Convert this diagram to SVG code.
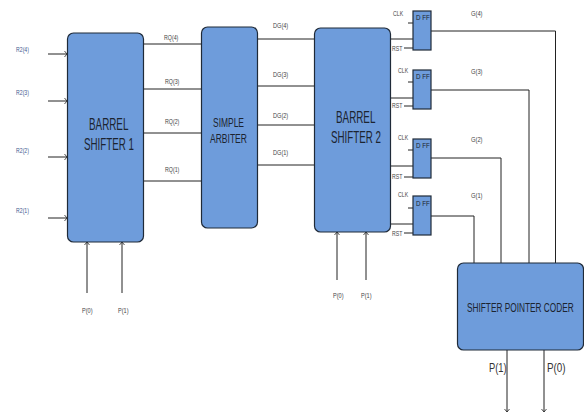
<svg xmlns="http://www.w3.org/2000/svg" width="584" height="414" viewBox="0 0 584 414">
<style>
text{font-family:"Liberation Sans",Arial,sans-serif}
.b{fill:#6e9cdb;stroke:#1f2a38;stroke-width:1.2}
.big{font-size:16px;fill:#1c2430}
.mid{font-size:13px;fill:#1c2430}
.s{font-size:8px;fill:#444}
.d{font-size:8px;fill:#1c2430}
.r{font-size:8px;fill:#3f5a90}
.c{fill:none;stroke:#222;stroke-width:1}
.h{fill:none;stroke:#222;stroke-width:.8}
</style>
<defs>
<path id="ar" class="h" d="M-2.500 -3L0 0L-2.500 3"/>
<path id="au" class="h" d="M-2.500 3L0 0L2.500 3"/>
<path id="ad" class="h" d="M-2.500 -3L0 0L2.500 -3"/>
</defs>
<g id="connectors">
<path class="c" d="M48 54H67M48 101H67M48 157H67M48 218H67M87 293V242M122 293V242M337 280V232M366 280V232"/>
<path class="c" d="M143 44H201M143 89H201M143 133H201M143 181H201M257 39H314M257 86H314M257 125H314M257 165H314"/>
<path class="c" d="M391 39H413M391 98H413M391 166H413M391 224H413M408 23H413M408 82H413M408 150H413M408 208H413M404 48H413M404 106H413M404 177H413M404 233H413"/>
<path class="c" d="M431 31H555.500V263M431 90H529V263M431 158H501V263M431 216H474V263M507 350V412M544 350V412"/>
<use href="#ar" x="67" y="54"/><use href="#ar" x="67" y="101"/><use href="#ar" x="67" y="157"/><use href="#ar" x="67" y="218"/>
<use href="#au" x="87" y="242"/><use href="#au" x="122" y="242"/><use href="#au" x="337" y="232"/><use href="#au" x="366" y="232"/>
<use href="#ad" x="507" y="412"/><use href="#ad" x="544" y="412"/>
</g>
<g id="barrel1"><rect class="b" x="67.500" y="33" width="76" height="209" rx="6"/>
<text class="big" transform="translate(89 130) scale(.616 1)">BARREL</text>
<text class="big" transform="translate(84 150) scale(.611 1)">SHIFTER 1</text></g>
<g id="arbiter"><rect class="b" x="201.500" y="27" width="56" height="201" rx="6"/>
<text class="mid" transform="translate(213 127) scale(.65 1)">SIMPLE</text>
<text class="mid" transform="translate(210 143) scale(.657 1)">ARBITER</text></g>
<g id="barrel2"><rect class="b" x="314.500" y="28" width="76" height="204" rx="6"/>
<text class="big" transform="translate(336 123) scale(.616 1)">BARREL</text>
<text class="big" transform="translate(331 143) scale(.611 1)">SHIFTER 2</text></g>
<g id="dff4"><rect class="b" x="413" y="11" width="18" height="39"/><text class="d" transform="translate(416 20) scale(.78 1)">D FF</text></g>
<g id="dff3"><rect class="b" x="413" y="70" width="18" height="39"/><text class="d" transform="translate(416 79) scale(.78 1)">D FF</text></g>
<g id="dff2"><rect class="b" x="413" y="139" width="18" height="39"/><text class="d" transform="translate(416 148) scale(.78 1)">D FF</text></g>
<g id="dff1"><rect class="b" x="413" y="196" width="18" height="39"/><text class="d" transform="translate(416 206) scale(.78 1)">D FF</text></g>
<g id="coder"><rect class="b" x="457.500" y="263" width="126" height="87" rx="6"/>
<text class="mid" transform="translate(467 312) scale(.638 1)">SHIFTER POINTER CODER</text></g>
<g id="labels">
<text class="r" transform="translate(16 52) scale(.65 1)">R2(4)</text>
<text class="r" transform="translate(16 95) scale(.65 1)">R2(3)</text>
<text class="r" transform="translate(16 153) scale(.65 1)">R2(2)</text>
<text class="r" transform="translate(16 213) scale(.65 1)">R2(1)</text>
<text class="s" transform="translate(164 40) scale(.66 1)">RQ(4)</text>
<text class="s" transform="translate(165 84) scale(.66 1)">RQ(3)</text>
<text class="s" transform="translate(165 124) scale(.66 1)">RQ(2)</text>
<text class="s" transform="translate(165 172) scale(.66 1)">RQ(1)</text>
<text class="s" transform="translate(82 313) scale(.7 1)">P(0)</text>
<text class="s" transform="translate(118 313) scale(.7 1)">P(1)</text>
<text class="s" transform="translate(333 298) scale(.7 1)">P(0)</text>
<text class="s" transform="translate(361 298) scale(.7 1)">P(1)</text>
<text class="s" transform="translate(273 28) scale(.7 1)">DG(4)</text>
<text class="s" transform="translate(273 77) scale(.7 1)">DG(3)</text>
<text class="s" transform="translate(273 118) scale(.7 1)">DG(2)</text>
<text class="s" transform="translate(273 155) scale(.7 1)">DG(1)</text>
<text class="s" transform="translate(393 16) scale(.65 1)">CLK</text>
<text class="s" transform="translate(398 73) scale(.65 1)">CLK</text>
<text class="s" transform="translate(398 140) scale(.65 1)">CLK</text>
<text class="s" transform="translate(398 197) scale(.65 1)">CLK</text>
<text class="s" transform="translate(392 51) scale(.65 1)">RST</text>
<text class="s" transform="translate(392 108) scale(.65 1)">RST</text>
<text class="s" transform="translate(392 179) scale(.65 1)">RST</text>
<text class="s" transform="translate(392 236) scale(.65 1)">RST</text>
<text class="s" transform="translate(471 16) scale(.72 1)">G(4)</text>
<text class="s" transform="translate(471 74) scale(.72 1)">G(3)</text>
<text class="s" transform="translate(471 142) scale(.72 1)">G(2)</text>
<text class="s" transform="translate(471 198) scale(.72 1)">G(1)</text>
<text font-size="13" fill="#333" transform="translate(489 372) scale(.72 1)">P(1)</text>
<text font-size="13" fill="#333" transform="translate(547 372) scale(.76 1)">P(0)</text>
</g>
</svg>
